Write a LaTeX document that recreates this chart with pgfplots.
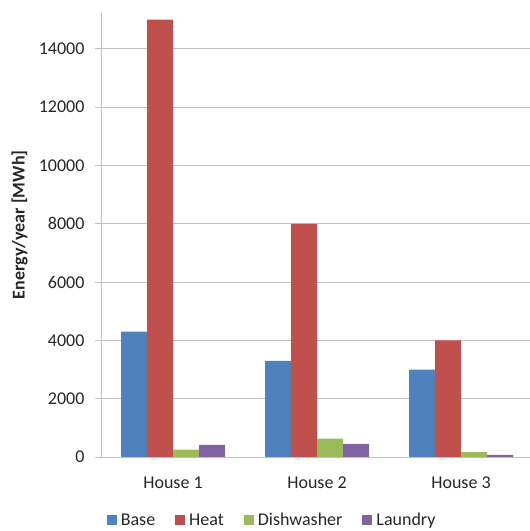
\documentclass[border=0pt]{standalone}
\usepackage{pgfplots}
\pgfplotsset{compat=1.18}
\usepackage{fontspec}
\setmainfont{Carlito}
\definecolor{cBase}{HTML}{4F81BD}
\definecolor{cHeat}{HTML}{C0504D}
\definecolor{cDish}{HTML}{9BBB59}
\definecolor{cLaun}{HTML}{8064A2}
\definecolor{gridc}{HTML}{BFBFBF}
\definecolor{txt}{HTML}{262626}
\begin{document}
\begin{tikzpicture}
\useasboundingbox (0,0) rectangle (530bp,531bp);
\begin{axis}[
  at={(101bp,74bp)}, anchor=south west,
  width=429bp, height=444bp, scale only axis,
  xmin=-0.5, xmax=2.479, ymin=0, ymax=15230,
  ybar=0pt, bar width=26bp,
  axis x line=bottom, axis y line=left,
  axis line style={gridc, line width=0.8bp, -},
  font=\fontsize{18bp}{21bp}\selectfont,
  text=txt,
  scaled y ticks=false,
  /pgf/number format/assume math mode=true,
  /pgf/number format/1000 sep={},
  ytick={0,2000,...,14000},
  yticklabel style={xshift=-7bp},
  ymajorgrids, grid style={gridc, line width=0.8bp},
  major tick length=6bp, tick align=outside,
  tick style={gridc, line width=0.8bp},
  xtick={0,1,2}, xticklabels={House 1,House 2,House 3},
  xticklabel style={yshift=-10bp},
  xtick style={draw=none},
  extra x ticks={-0.5,0.5,1.5},
  extra x tick labels={},
  extra x tick style={xtick style={gridc, line width=0.8bp}, major tick length=6bp, grid=none},
  ylabel={\bfseries Energy/year [MWh]},
  ylabel style={at={(axis description cs:-0.19,0.523)}, anchor=center},
  legend style={at={(axis description cs:0.399,-0.143)}, anchor=center, draw=none, fill=none,
    legend columns=4,
    /tikz/every even column/.append style={column sep=18bp},
    /tikz/every odd column/.append style={column sep=2bp},
    font=\fontsize{18bp}{21bp}\selectfont},
  legend image code/.code={\fill[#1] (0bp,-5bp) rectangle (10bp,5bp);},
]
\addplot[fill=cBase, draw=none] coordinates {(0,4300) (1,3300) (2,3000)};
\addplot[fill=cHeat, draw=none] coordinates {(0,15000) (1,8000) (2,4000)};
\addplot[fill=cDish, draw=none] coordinates {(0,250) (1,630) (2,170)};
\addplot[fill=cLaun, draw=none] coordinates {(0,420) (1,450) (2,70)};
\legend{Base,Heat,Dishwasher,Laundry}
\end{axis}
\end{tikzpicture}
\end{document}
